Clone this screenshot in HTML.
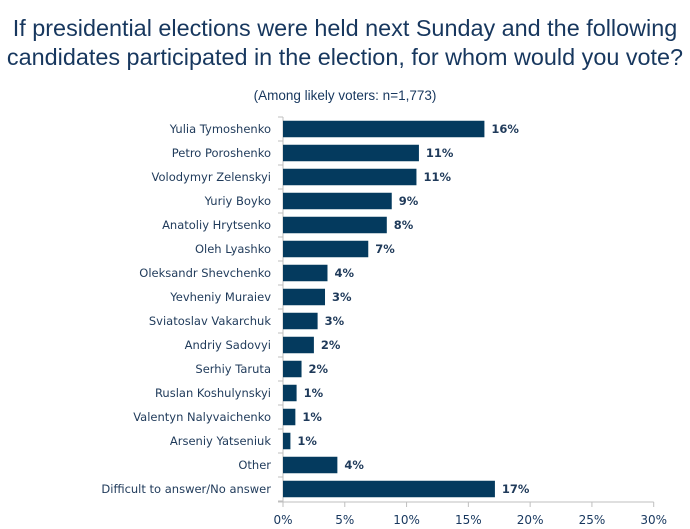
<!DOCTYPE html>
<html><head><meta charset="utf-8"><style>
body{margin:0;background:#fff;width:690px;height:529px;overflow:hidden;font-family:"Liberation Sans",sans-serif;}
#t{position:absolute;left:0;top:14px;width:690px;text-align:center;color:#17375e;font-size:23.4px;line-height:29px;white-space:nowrap;font-family:"Liberation Sans",sans-serif}
#s{position:absolute;left:0;top:88px;width:690px;text-align:center;color:#17375e;font-size:13.5px;white-space:nowrap}
</style></head><body>
<div id="t">If presidential elections were held next Sunday and the following<br>candidates participated in the election, for whom would you vote?</div>
<div id="s">(Among likely voters: n=1,773)</div>
<svg id="c" width="690" height="529" style="position:absolute;left:0;top:0"></svg>
<script>
const categories=["Yulia Tymoshenko","Petro Poroshenko","Volodymyr Zelenskyi","Yuriy Boyko","Anatoliy Hrytsenko","Oleh Lyashko","Oleksandr Shevchenko","Yevheniy Muraiev","Sviatoslav Vakarchuk","Andriy Sadovyi","Serhiy Taruta","Ruslan Koshulynskyi","Valentyn Nalyvaichenko","Arseniy Yatseniuk","Other","Difficult to answer/No answer"];
const values=[16.3,11.0,10.8,8.8,8.4,6.9,3.6,3.4,2.8,2.5,1.5,1.1,1.0,0.6,4.4,17.15];
const valueLabels=["16%","11%","11%","9%","8%","7%","4%","3%","3%","2%","2%","1%","1%","1%","4%","17%"];
const ticks=[0,5,10,15,20,25,30];
const tickLabels=["0%","5%","10%","15%","20%","25%","30%"];
const svg=document.getElementById('c');const NS="http://www.w3.org/2000/svg";
const x0=283,x1=653.7,axisY=502,top0=117,step=24,bh=16.5;
const xs=v=>x0+(v/30)*(x1-x0);
const yc=i=>top0+step*i+step/2;
function mk(tag,attrs,txt){const e=document.createElementNS(NS,tag);for(const k in attrs)e.setAttribute(k,attrs[k]);if(txt!==undefined)e.textContent=txt;svg.appendChild(e);return e;}
const blue="#17375e";
let ya=mk('line',{x1:x0,y1:top0,x2:x0,y2:axisY+5,stroke:'#bfbfbf','stroke-width':1});


let xa=mk('line',{x1:x0-5,y1:axisY,x2:x1,y2:axisY,stroke:'#bfbfbf','stroke-width':1});


for(let i=0;i<=categories.length;i++){
  let tk=mk('line',{x1:x0-5,y1:top0+step*i,x2:x0,y2:top0+step*i,stroke:'#bfbfbf'});
  
  
}
ticks.forEach((t,i)=>{
  let tk=mk('line',{x1:xs(t),y1:axisY,x2:xs(t),y2:axisY+5,stroke:'#bfbfbf'});
  
  
  let tl=mk('text',{x:xs(t),y:axisY+22,'text-anchor':'middle','font-size':12,fill:blue,'font-family':'DejaVu Sans, sans-serif'},tickLabels[i]);
  
  
});
categories.forEach((c,i)=>{
  let l=mk('text',{x:271,y:yc(i)+4,'text-anchor':'end','font-size':11.5,fill:'#1f3a5a','font-family':'DejaVu Sans, sans-serif'},c);
  
  
  let r=mk('rect',{x:x0,y:yc(i)-bh/2,width:xs(values[i])-x0,height:bh,fill:'#043a5e'});
  
  
  let v=mk('text',{x:xs(values[i])+7,y:yc(i)+4,'font-size':11.5,'font-weight':'bold',fill:'#1f3a5a','font-family':'DejaVu Sans, sans-serif'},valueLabels[i]);
  
  
});
</script>
</body></html>
